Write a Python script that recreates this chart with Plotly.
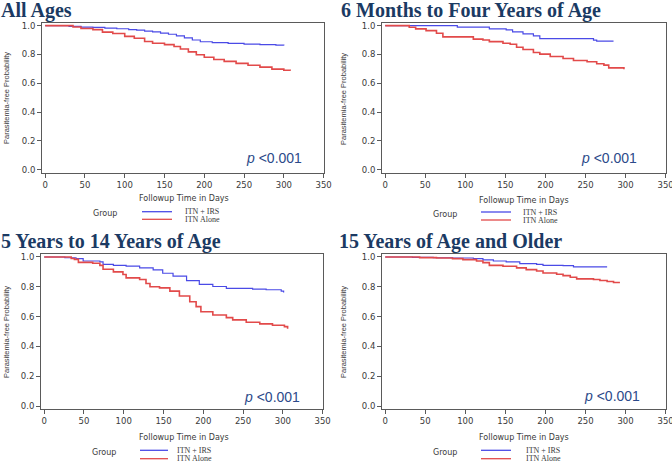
import plotly.graph_objects as go
from plotly.subplots import make_subplots

W, H = 672, 462

titles = ["All Ages", "6 Months to Four Years of Age",
          "5 Years to 14 Years of Age", "15 Years of Age and Older"]
series_names = ["ITN + IRS", "ITN Alone"]
x_ticks = [0, 50, 100, 150, 200, 250, 300, 350]
y_ticks = [0.0, 0.2, 0.4, 0.6, 0.8, 1.0]
p_label = "<i>p</i> <0.001"

# Panel 1: All Ages
p1_irs_t = [0, 30, 45, 60, 75, 90, 105, 115, 125, 135, 145, 155, 165, 175, 185, 195, 210, 230, 250, 270, 290, 300]
p1_irs_s = [1.0, 0.995, 0.99, 0.987, 0.982, 0.978, 0.972, 0.968, 0.962, 0.956, 0.948, 0.94, 0.928, 0.915, 0.9, 0.888, 0.882, 0.876, 0.871, 0.868, 0.865, 0.862]
p1_itn_t = [0, 35, 45, 60, 72, 85, 100, 112, 125, 135, 150, 162, 170, 180, 190, 200, 212, 225, 240, 255, 270, 285, 300, 308]
p1_itn_s = [1.0, 0.99, 0.98, 0.972, 0.955, 0.945, 0.925, 0.912, 0.89, 0.878, 0.868, 0.855, 0.838, 0.818, 0.798, 0.78, 0.765, 0.752, 0.738, 0.725, 0.712, 0.698, 0.69, 0.686]

# Panel 2: 6 months to 4 years
p2_irs_t = [0, 90, 130, 151, 159, 172, 185, 193, 256, 260, 264, 285]
p2_irs_s = [1.0, 0.99, 0.977, 0.97, 0.956, 0.942, 0.929, 0.91, 0.91, 0.899, 0.892, 0.892]
p2_itn_t = [0, 30, 38, 51, 64, 72, 110, 122, 130, 147, 156, 164, 172, 185, 193, 206, 222, 235, 252, 264, 273, 279, 298]
p2_itn_s = [1.0, 0.988, 0.977, 0.965, 0.947, 0.922, 0.906, 0.9, 0.889, 0.878, 0.871, 0.85, 0.834, 0.813, 0.802, 0.786, 0.772, 0.758, 0.749, 0.735, 0.726, 0.707, 0.698]

# Panel 3: 5 to 14 years
p3_irs_t = [0, 26, 40, 49, 70, 74, 87, 103, 120, 137, 149, 162, 179, 195, 212, 229, 262, 279, 298, 301]
p3_irs_s = [1.0, 0.995, 0.989, 0.973, 0.967, 0.951, 0.944, 0.938, 0.927, 0.913, 0.891, 0.871, 0.842, 0.816, 0.802, 0.789, 0.784, 0.78, 0.771, 0.762]
p3_itn_t = [0, 34, 38, 43, 61, 70, 74, 87, 99, 103, 120, 128, 133, 145, 158, 170, 183, 191, 197, 212, 229, 237, 254, 271, 287, 302, 306]
p3_itn_s = [1.0, 0.99, 0.984, 0.964, 0.958, 0.944, 0.918, 0.9, 0.882, 0.86, 0.849, 0.822, 0.8, 0.793, 0.771, 0.738, 0.70, 0.667, 0.633, 0.611, 0.593, 0.578, 0.562, 0.551, 0.542, 0.533, 0.518]

# Panel 4: 15 years and older
p4_irs_t = [0, 34, 60, 84, 110, 122, 135, 151, 168, 189, 197, 222, 235, 277]
p4_irs_s = [1.0, 0.997, 0.995, 0.993, 0.989, 0.98, 0.973, 0.967, 0.955, 0.951, 0.944, 0.942, 0.933, 0.933]
p4_itn_t = [0, 43, 64, 84, 97, 114, 122, 130, 147, 164, 176, 189, 197, 214, 222, 231, 239, 260, 268, 277, 285, 292]
p4_itn_s = [1.0, 0.996, 0.993, 0.989, 0.982, 0.973, 0.962, 0.944, 0.938, 0.927, 0.915, 0.906, 0.893, 0.884, 0.875, 0.864, 0.853, 0.849, 0.842, 0.835, 0.829, 0.824]

panels = [
    (p1_irs_t, p1_irs_s, p1_itn_t, p1_itn_s),
    (p2_irs_t, p2_irs_s, p2_itn_t, p2_itn_s),
    (p3_irs_t, p3_irs_s, p3_itn_t, p3_itn_s),
    (p4_irs_t, p4_irs_s, p4_itn_t, p4_itn_s),
]

BLUE = "#4a4ae6"
RED = "#e24a4a"
NAVY = "#1b3a63"
PBLUE = "#2c4a8a"
AX = "#5a5a5a"
TXT = "#3a3a3a"

def px(x):
    return x / W

def py(y):
    return 1 - y / H

# plot frames in pixels: (left, right, top, bottom)
frames = [(42, 324, 22.7, 172.7), (382, 666, 22.7, 172.7),
          (41, 323, 254, 409), (382, 666, 254, 409)]
title_pos = [(0, 10), (340, 10), (0, 241), (338, 241)]
xtitle_pos = [(184, 198), (524, 200), (184, 437), (524, 437)]
ytitle_pos = [(6, 98), (343, 99), (6, 332), (343, 332)]
p_pos = [(325, 0.083), (317, 0.081), (324, 0.062), (321, 0.07)]
legend_pos = [  # group center x, group y, line x0, x1, y blue, y red, text x
    (105, 213, 142, 172, 211.7, 219.3, 183),
    (445, 214, 481, 511, 212, 220, 521),
    (104, 452, 140, 168, 450.3, 458.7, 175),
    (445, 452, 481, 511, 450.3, 458.7, 524),
]

fig = make_subplots(rows=2, cols=2)
annotations = []
shapes = []

for i, (bt, bs, rt, rs) in enumerate(panels):
    r, c = i // 2 + 1, i % 2 + 1
    fig.add_trace(go.Scatter(x=bt, y=bs, mode="lines", line=dict(color=BLUE, width=1.2, shape="hv"),
                             name=series_names[0], showlegend=False), row=r, col=c)
    fig.add_trace(go.Scatter(x=rt, y=rs, mode="lines", line=dict(color=RED, width=1.6, shape="hv"),
                             name=series_names[1], showlegend=False), row=r, col=c)
    l, rr, t, b = frames[i]
    sfx = "" if i == 0 else str(i + 1)
    fig.layout["xaxis" + sfx].update(
        domain=[px(l), px(rr)], range=[-4, 350.5], tickvals=x_ticks, ticks="outside", ticklen=4,
        tickcolor=AX, showline=True, linecolor=AX, linewidth=1, mirror=True, showgrid=False,
        zeroline=False, automargin=False, ticklabeloverflow="allow",
        tickfont=dict(family="DejaVu Sans", size=8.5, color=TXT))
    fig.layout["yaxis" + sfx].update(
        domain=[py(b), py(t)], range=[-0.02, 1.02], tickvals=y_ticks, tickformat=".1f",
        ticks="outside", ticklen=4, tickcolor=AX, showline=True, linecolor=AX, linewidth=1,
        mirror=True, showgrid=False, zeroline=False, automargin=False, ticklabeloverflow="allow",
        tickfont=dict(family="DejaVu Sans", size=8.5, color=TXT))
    # title
    tx, ty = title_pos[i]
    annotations.append(dict(text="<b>" + titles[i] + "</b>", x=px(tx), y=py(ty), xref="paper", yref="paper",
                            xanchor="left", yanchor="middle", showarrow=False, borderpad=0,
                            font=dict(family="Liberation Serif", size=20, color=NAVY)))
    # x title
    xx, xy = xtitle_pos[i]
    annotations.append(dict(text="Followup Time in Days", x=px(xx), y=py(xy), xref="paper", yref="paper",
                            xanchor="center", yanchor="middle", showarrow=False,
                            font=dict(family="DejaVu Sans", size=8, color=TXT)))
    # y title
    yx, yy = ytitle_pos[i]
    annotations.append(dict(text="Parasitemia-free Probability", x=px(yx), y=py(yy), xref="paper", yref="paper",
                            xanchor="center", yanchor="middle", showarrow=False, textangle=-90,
                            font=dict(family="Liberation Sans Narrow, Liberation Sans", size=7.5, color=TXT)))
    # p value
    pxv, pyv = p_pos[i]
    annotations.append(dict(text=p_label, x=pxv, y=pyv, xref="x" + sfx, yref="y" + sfx,
                            xanchor="right", yanchor="middle", showarrow=False,
                            font=dict(family="Liberation Sans", size=14, color=PBLUE)))
    # legend
    gx, gy, lx0, lx1, yb, yr, ltx = legend_pos[i]
    annotations.append(dict(text="Group", x=px(gx), y=py(gy), xref="paper", yref="paper",
                            xanchor="center", yanchor="middle", showarrow=False,
                            font=dict(family="DejaVu Sans", size=8, color=TXT)))
    for name, yv, col in ((series_names[0], yb, BLUE), (series_names[1], yr, RED)):
        shapes.append(dict(type="line", xref="paper", yref="paper", x0=px(lx0), x1=px(lx1),
                           y0=py(yv), y1=py(yv), line=dict(color=col, width=1.3)))
        annotations.append(dict(text=name, x=px(ltx), y=py(yv), xref="paper", yref="paper",
                                xanchor="left", yanchor="middle", showarrow=False,
                                font=dict(family="Liberation Serif", size=8, color=TXT)))

fig.update_layout(width=W, height=H, margin=dict(l=0, r=0, t=0, b=0, autoexpand=False),
                  paper_bgcolor="white", plot_bgcolor="white",
                  annotations=annotations, shapes=shapes, showlegend=False)

fig.write_html("out.html", config={"displayModeBar": False},
               post_script="document.body.style.margin='0';document.body.style.padding='0';"
                           "document.body.style.overflow='hidden';")
